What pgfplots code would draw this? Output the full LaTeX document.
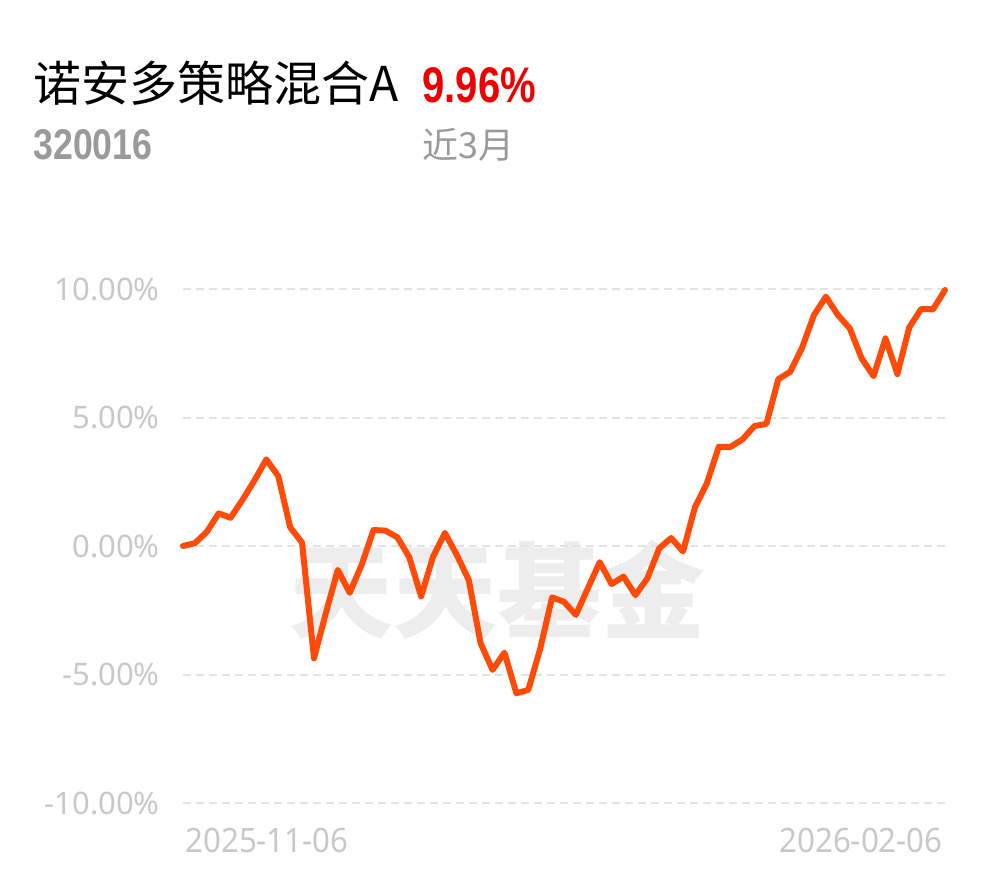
\documentclass[border=0pt]{standalone}
\usepackage{pgfplots}
\pgfplotsset{compat=1.18}
\usepackage{fontspec}
\setmainfont{Noto Sans}
\newfontfamily\cjk{Noto Sans CJK SC}
\newfontfamily\cjkbold{Noto Sans CJK SC Black}
\newfontfamily\numbold[FakeStretch=0.8]{Liberation Sans Bold}
\newfontfamily\numboldb[FakeStretch=0.83]{Liberation Sans Bold}
\newfontfamily\datefont[FakeStretch=0.93]{Noto Sans}
\definecolor{lineor}{HTML}{FF4A08}
\definecolor{ticklab}{HTML}{C8C8C8}
\definecolor{gridc}{HTML}{E3E3E3}
\definecolor{wm}{HTML}{EDEDED}
\definecolor{redv}{HTML}{EE0000}
\definecolor{grayt}{HTML}{9A9A9A}
\begin{document}
\begin{tikzpicture}
\begin{scope}[x=0.5pt,y=-0.5pt]
\useasboundingbox (0,0) rectangle (990,878);
\node[anchor=base west,inner sep=0pt,text=black] at (33,101) {\fontsize{24pt}{25pt}\cjk 诺安多策略混合A};
\node[anchor=base west,inner sep=0pt,text=redv] at (422,102) {\fontsize{25pt}{26pt}\numbold 9.96\%};
\node[anchor=base west,inner sep=0pt,text=grayt] at (33,159) {\fontsize{21.5pt}{22pt}\numboldb 320016};
\node[anchor=base west,inner sep=0pt,text=grayt] at (422,158) {\fontsize{18pt}{19pt}\cjk 近3月};
\node[anchor=center,inner sep=0pt,text=wm] at (497,590) {\fontsize{52pt}{54pt}\cjkbold 天天基金};
\node[anchor=base west,inner sep=0pt,text=ticklab] at (185,852) {\fontsize{16.8pt}{17pt}\datefont 2025-11-06};
\node[anchor=base east,inner sep=0pt,text=ticklab] at (943,852) {\fontsize{16.8pt}{17pt}\datefont 2026-02-06};
\end{scope}
\begin{axis}[
  at={(91.5pt,-401.5pt)}, anchor=south west,
  scale only axis, width=381pt, height=257pt,
  xmin=0, xmax=64, ymin=-10, ymax=10,
  clip=false,
  axis line style={draw=none},
  xtick=\empty,
  ytick={-10,-5,0,5,10},
  yticklabels={-10.00\%,-5.00\%,0.00\%,5.00\%,10.00\%},
  major tick length=0pt,
  ymajorgrids,
  major grid style={draw=gridc, line width=1pt, dash pattern=on 4pt off 2.5pt},
  yticklabel style={font=\fontsize{15.5pt}{16pt}\selectfont, text=ticklab, inner sep=0pt, anchor=east, xshift=-11.5pt},
  /pgf/number format/assume math mode=true,
]
\addplot[lineor, line width=3pt, line join=round, line cap=round] coordinates {
(0,0.00) (1,0.11) (2,0.55) (3,1.27) (4,1.10) (5,1.80) (6,2.55) (7,3.37) (8,2.72) (9,0.73)
(10,0.13) (11,-4.37) (12,-2.61) (13,-0.93) (14,-1.82) (15,-0.74) (16,0.62) (17,0.60) (18,0.34) (19,-0.43)
(20,-1.96) (21,-0.42) (22,0.51) (23,-0.35) (24,-1.32) (25,-3.79) (26,-4.82) (27,-4.15) (28,-5.73) (29,-5.60)
(30,-4.00) (31,-2.00) (32,-2.17) (33,-2.68) (34,-1.65) (35,-0.63) (36,-1.48) (37,-1.19) (38,-1.91) (39,-1.26)
(40,-0.09) (41,0.31) (42,-0.21) (43,1.51) (44,2.44) (45,3.86) (46,3.86) (47,4.15) (48,4.67) (49,4.75)
(50,6.49) (51,6.78) (52,7.72) (53,8.99) (54,9.70) (55,8.99) (56,8.47) (57,7.30) (58,6.61) (59,8.08)
(60,6.69) (61,8.51) (62,9.22) (63,9.21) (64,9.96)
};
\end{axis}
\end{tikzpicture}
\end{document}
